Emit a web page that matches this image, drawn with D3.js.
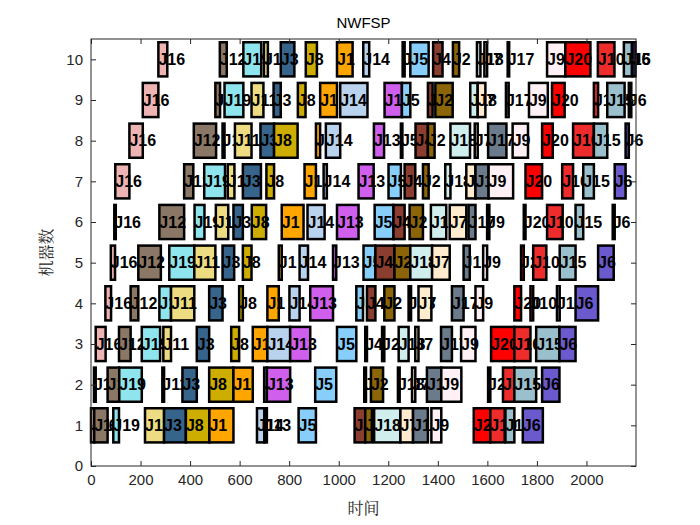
<!DOCTYPE html>
<html><head><meta charset="utf-8">
<script src="https://cdn.jsdelivr.net/npm/d3@7"></script>
<style>body{margin:0;background:#fff}</style>
</head><body><svg id="c" width="700" height="525"></svg>
<script>
const jobs = ["J16","J12","J19","J11","J3","J8","J1","J14","J13","J5","J4","J2","J18","J7","J17","J9","J20","J10","J15","J6"];
const jobColors = ["#EEB4B4","#8B7765","#8EE5EE","#EEDC82","#36648B","#CDAD00","#FFA500","#B9D3EE","#D15FEE","#87CEFA","#8B3E2F","#8B6508","#D1EEEE","#FFEBCD","#6C7B8B","#FFF0F5","#FF0000","#EE2C2C","#9AC0CD","#6A5ACD"];
// per machine: start/end times, in job order above
const starts = {
 10:[272,520,615,698,766,867,993,1099,1258,1289,1381,1461,1558,1588,1682,1841,1915,2046,2151,2186],
 9:[209,502,539,648,737,835,925,1006,1185,1255,1360,1390,1531,1561,1675,1768,1861,2030,2084,2171],
 8:[155,415,531,581,684,739,908,948,1142,1251,1310,1360,1451,1549,1603,1702,1821,1946,2030,2158],
 7:[98,376,457,552,613,708,862,939,1080,1201,1266,1340,1430,1515,1552,1605,1754,1902,1987,2114],
 6:[94,276,418,504,575,649,770,874,993,1145,1221,1286,1372,1448,1524,1599,1747,1841,1956,2106],
 5:[80,191,316,417,531,613,758,842,977,1100,1148,1225,1289,1377,1504,1583,1736,1785,1892,2047],
 4:[58,160,276,323,477,598,712,801,885,1071,1114,1184,1282,1322,1457,1552,1709,1774,1881,1956],
 3:[19,113,205,292,427,566,653,712,804,993,1107,1175,1242,1309,1413,1494,1615,1709,1797,1891],
 2:[12,67,114,288,369,477,575,699,710,905,1103,1130,1239,1296,1356,1414,1603,1663,1709,1821],
 1:[0,13,90,218,295,383,478,670,700,838,1064,1107,1143,1249,1300,1374,1545,1612,1673,1743]
};
const ends = {
 10:[308,548,687,714,821,912,1056,1123,1266,1363,1419,1486,1572,1599,1688,1915,2016,2113,2183,2198],
 9:[272,521,615,696,766,866,993,1116,1255,1289,1379,1460,1561,1592,1686,1844,1912,2047,2154,2181],
 8:[209,505,539,648,739,834,925,1006,1183,1257,1360,1387,1530,1561,1677,1764,1864,2030,2084,2171],
 7:[155,413,541,579,686,739,908,952,1141,1251,1309,1363,1451,1552,1605,1704,1821,1946,2030,2158],
 6:[100,376,458,554,613,707,858,943,1080,1221,1266,1340,1434,1515,1552,1608,1754,1904,1987,2114],
 5:[97,282,417,502,578,648,770,876,990,1148,1225,1289,1377,1448,1529,1599,1747,1838,1956,2110],
 4:[81,191,323,417,531,613,758,842,977,1098,1148,1225,1292,1374,1504,1583,1736,1785,1892,2047],
 3:[59,160,279,323,477,598,712,804,885,1071,1114,1184,1282,1322,1457,1552,1709,1774,1891,1956],
 2:[19,114,205,295,427,575,653,710,804,990,1110,1179,1246,1309,1414,1495,1612,1709,1797,1891],
 1:[13,67,113,295,383,478,575,700,710,908,1107,1134,1249,1300,1360,1414,1612,1670,1709,1824]
};
const xTicks = [0,200,400,600,800,1000,1200,1400,1600,1800,2000];
const yTicks = [0,1,2,3,4,5,6,7,8,9,10];

const svg = d3.select("#c");
const L=91,R=636,T=39,B=466;
const x = d3.scaleLinear().domain([0,2200]).range([L,R]);
const y = d3.scaleLinear().domain([0,10.5]).range([B,T]);
const font="'Liberation Sans',Arial,sans-serif";

const ops=[];
for(let m=10;m>=1;m--){
  jobs.forEach((j,i)=>ops.push({m,job:j,color:jobColors[i],s:starts[m][i],e:ends[m][i]}));
}
ops.sort((a,b)=>b.m-a.m||a.s-b.s);
const hh=0.42;
const g=svg.append("g");
ops.forEach(o=>{
  g.append("rect").attr("x",x(o.s)).attr("y",y(o.m+hh)).attr("width",x(o.e)-x(o.s)).attr("height",y(o.m-hh)-y(o.m+hh))
   .attr("fill",o.color).attr("stroke","#000").attr("stroke-width",2.5);
  g.append("text").attr("x",x(o.s)).attr("y",y(o.m)).attr("dy","0.36em").attr("font-family",font)
   .attr("font-weight","bold").attr("font-size",16).attr("fill","#000").text(o.job);
});

// axes
const fmt=d3.format("d");
svg.append("g").attr("transform",`translate(0,${B})`).call(d3.axisBottom(x).tickValues(xTicks).tickFormat(fmt).tickSize(-5).tickPadding(8));
svg.append("g").attr("transform",`translate(${L},0)`).call(d3.axisLeft(y).tickValues(yTicks).tickFormat(fmt).tickSize(-5).tickPadding(8));
svg.append("g").attr("transform",`translate(0,${T})`).call(d3.axisTop(x).tickValues(xTicks).tickSize(-5).tickFormat(""));
svg.append("g").attr("transform",`translate(${R},0)`).call(d3.axisRight(y).tickValues(yTicks).tickSize(-5).tickFormat(""));
svg.selectAll(".domain").remove();
svg.selectAll(".tick line").attr("stroke","#262626");
svg.selectAll(".tick text").attr("font-family",font).attr("font-size",15).attr("fill","#262626");
svg.append("rect").attr("x",L).attr("y",T).attr("width",R-L).attr("height",B-T).attr("fill","none").attr("stroke","#262626").attr("stroke-width",1);

svg.append("text").attr("x",(L+R)/2).attr("y",28).attr("text-anchor","middle").attr("font-family",font).attr("font-size",15).attr("fill","#000").text("NWFSP");
svg.append("text").attr("x",(L+R)/2).attr("y",514).attr("text-anchor","middle").attr("font-family","'Noto Serif CJK SC','Noto Sans CJK SC'").attr("font-size",16).attr("fill","#262626").text("时间");
svg.append("text").attr("transform",`translate(52,${(T+B)/2}) rotate(-90)`).attr("text-anchor","middle").attr("font-family","'Noto Serif CJK SC','Noto Sans CJK SC'").attr("font-size",16).attr("fill","#262626").text("机器数");
</script></body></html>
